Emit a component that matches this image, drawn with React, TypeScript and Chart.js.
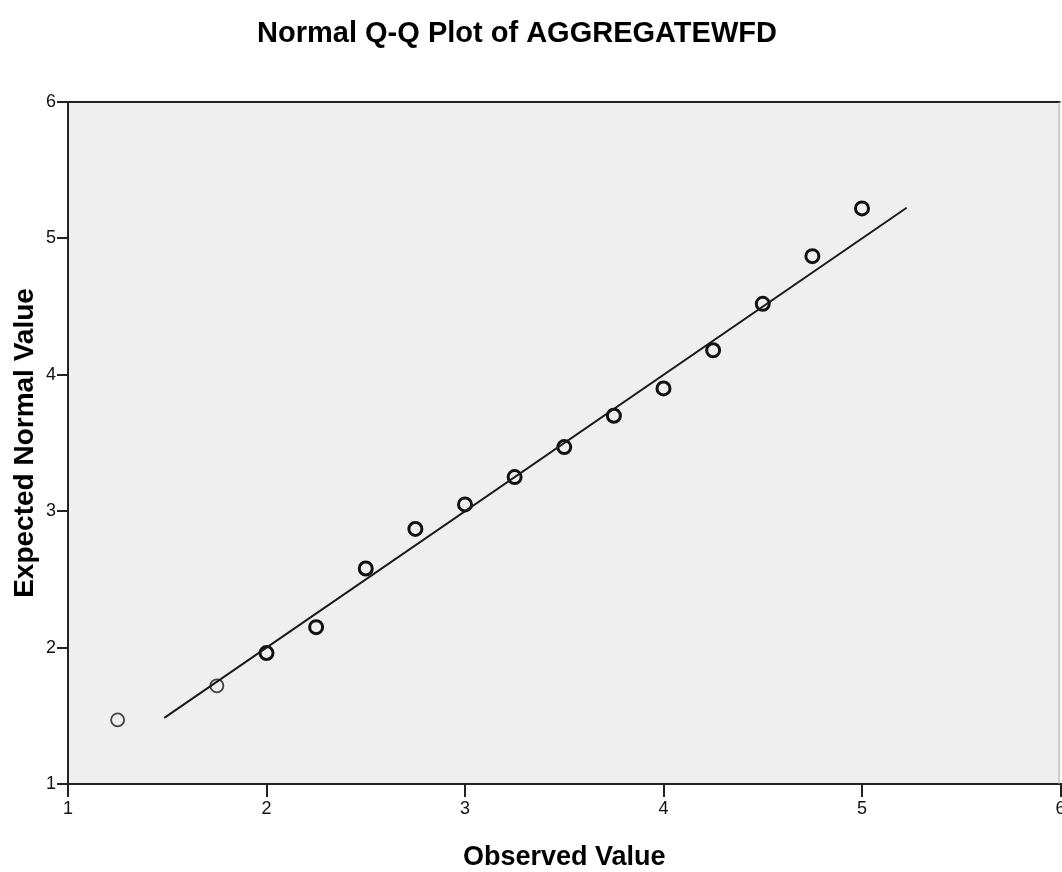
import React, { useEffect, useRef } from "react";
import { Chart, registerables } from "chart.js";

Chart.register(...registerables);

const observedValues = [1.25, 1.75, 2.0, 2.25, 2.5, 2.75, 3.0, 3.25, 3.5, 3.75, 4.0, 4.25, 4.5, 4.75, 5.0];
const expectedValues = [1.47, 1.72, 1.96, 2.15, 2.58, 2.87, 3.05, 3.25, 3.47, 3.7, 3.9, 4.18, 4.52, 4.87, 5.22];
const refLineX = [1.485, 5.225];
const refLineY = [1.485, 5.225];
const axisMin = 1;
const axisMax = 6;

const titleText = "Normal Q-Q Plot of AGGREGATEWFD";
const xTitle = "Observed Value";
const yTitle = "Expected Normal Value";

const FONT = "'Liberation Sans', Arial, sans-serif";

export default function App() {
  const ref = useRef<HTMLCanvasElement | null>(null);
  useEffect(() => {
    document.body.style.margin = "0";
    document.body.style.overflow = "hidden";
    const canvas = ref.current!;
    const bgPlugin = {
      id: "bgPlugin",
      beforeDraw(chart: any) {
        const { ctx, chartArea: a } = chart;
        ctx.save();
        ctx.fillStyle = "#efefef";
        ctx.fillRect(a.left, a.top, a.right - a.left, a.bottom - a.top);
        ctx.restore();
      },
      afterDraw(chart: any) {
        const { ctx, chartArea: a } = chart;
        ctx.save();
        ctx.strokeStyle = "#222";
        ctx.lineWidth = 2;
        ctx.beginPath();
        ctx.moveTo(a.left, a.top);
        ctx.lineTo(a.right, a.top);
        ctx.stroke();
        ctx.strokeStyle = "#aaa";
        ctx.lineWidth = 1;
        ctx.beginPath();
        ctx.moveTo(a.right - 1.5, a.top);
        ctx.lineTo(a.right - 1.5, a.bottom);
        ctx.stroke();
        ctx.fillStyle = "#000";
        ctx.textAlign = "center";
        ctx.textBaseline = "middle";
        ctx.font = `bold 29px ${FONT}`;
        ctx.fillText(titleText, 517, 34);
        ctx.font = `bold 27px ${FONT}`;
        ctx.fillText(xTitle, (a.left + a.right) / 2, 858);
        ctx.font = `bold 28px ${FONT}`;
        ctx.translate(25, (a.top + a.bottom) / 2);
        ctx.rotate(-Math.PI / 2);
        ctx.fillText(yTitle, 0, 0);
        ctx.restore();
      },
    };
    const tickFont = { family: FONT, size: 18 };
    const chart = new Chart(canvas, {
      type: "scatter",
      data: {
        datasets: [
          {
            type: "line",
            data: refLineX.map((x, i) => ({ x, y: refLineY[i] })),
            borderColor: "#1a1a1a",
            borderWidth: 2,
            pointRadius: 0,
            fill: false,
          } as any,
          {
            type: "scatter",
            data: observedValues.map((x, i) => ({ x, y: expectedValues[i] })),
            pointRadius: 6.5,
            pointHoverRadius: 6.5,
            pointBackgroundColor: "rgba(0,0,0,0)",
            pointBorderColor: (c: any) => (c.dataIndex < 2 ? "#444" : "#111"),
            pointBorderWidth: (c: any) => (c.dataIndex < 2 ? 1.8 : 3),
          } as any,
        ],
      },
      options: {
        animation: false,
        responsive: false,
        maintainAspectRatio: false,
        events: [],
        layout: { padding: { top: 102, right: 7, left: 0, bottom: 0 } },
        plugins: { legend: { display: false }, tooltip: { enabled: false }, title: { display: false } },
        scales: {
          x: {
            type: "linear",
            min: axisMin,
            max: axisMax,
            ticks: { stepSize: 1, font: tickFont, color: "#111", padding: 1 },
            grid: { drawOnChartArea: false, drawTicks: true, tickLength: 13, color: "#222", lineWidth: 2 },
            border: { display: true, color: "#222", width: 2 },
            afterFit: (s: any) => {
              s.height = 88;
            },
          },
          y: {
            type: "linear",
            min: axisMin,
            max: axisMax,
            ticks: { stepSize: 1, font: tickFont, color: "#111", padding: 1 },
            grid: { drawOnChartArea: false, drawTicks: true, tickLength: 11, color: "#222", lineWidth: 2 },
            border: { display: true, color: "#222", width: 2 },
            afterFit: (s: any) => {
              s.width = 68;
            },
          },
        },
      },
      plugins: [bgPlugin],
    } as any);
    return () => chart.destroy();
  }, []);
  return (
    <div style={{ position: "absolute", left: 0, top: 0, width: 1062, height: 872, overflow: "hidden", background: "#fff" }}>
      <canvas ref={ref} width={1070} height={872} style={{ width: 1070, height: 872, display: "block" }} />
    </div>
  );
}
